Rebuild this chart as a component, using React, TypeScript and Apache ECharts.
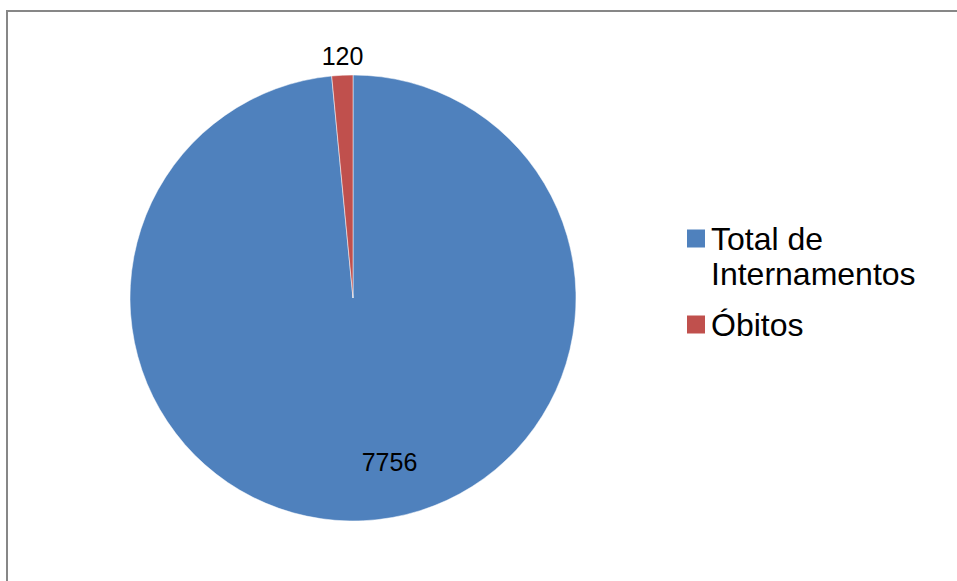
import React, { useEffect, useRef } from "react";
import * as echarts from "echarts";

const categories = ["Total de Internamentos", "Óbitos"];
const legendLabels = ["\nTotal de\nInternamentos", "Óbitos"];
const values = [7756, 120];
const colors = ["#4F81BD", "#C0504D"];

const FONT = "'Liberation Sans', Arial, Helvetica, sans-serif";

export default function App() {
  const ref = useRef<HTMLDivElement>(null);
  useEffect(() => {
    if (!ref.current) return;
    const chart = echarts.init(ref.current, null, { renderer: "svg" });
    const labelShift = [
      { dx: 31, dy: 50 },
      { dx: -5, dy: -128 },
    ];
    chart.setOption({
      animation: false,
      backgroundColor: "#ffffff",
      graphic: [
        {
          type: "rect",
          shape: { x: 7, y: 11, width: 1000, height: 700 },
          style: { fill: "none", stroke: "#878787", lineWidth: 2 },
          silent: true,
        },
      ],
      legend: {
        orient: "vertical",
        left: 685,
        top: 186,
        padding: 0,
        itemWidth: 20,
        itemHeight: 20,
        itemGap: 16,
        icon: "rect",
        formatter: (name: string) => legendLabels[categories.indexOf(name)],
        textStyle: {
          fontFamily: FONT,
          fontSize: 32,
          lineHeight: 35,
          color: "#000000",
        },
        data: categories,
      },
      series: [
        {
          type: "pie",
          center: [353, 298],
          radius: [0, 223],
          startAngle: 90,
          clockwise: true,
          data: categories.map((c, i) => ({
            name: c,
            value: values[i],
            itemStyle: { color: colors[i] },
          })),
          itemStyle: { borderColor: "#ffffff", borderWidth: 0.5 },
          label: {
            show: true,
            position: "inside",
            formatter: "{c}",
            color: "#000000",
            fontFamily: FONT,
            fontSize: 25,
          },
          labelLine: { show: false },
          labelLayout: (p: any) => labelShift[p.dataIndex],
          emphasis: { disabled: true },
        },
      ],
    });
    return () => chart.dispose();
  }, []);
  return (
    <div
      ref={ref}
      style={{ position: "absolute", left: 0, top: 0, width: 957, height: 581 }}
    />
  );
}
